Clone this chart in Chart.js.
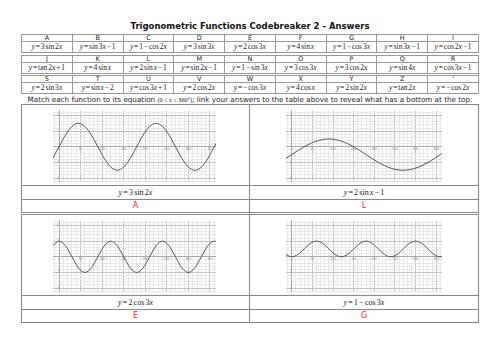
<!DOCTYPE html>
<html>
<head>
<meta charset="utf-8">
<script src="https://cdn.jsdelivr.net/npm/chart.js@4.4.1/dist/chart.umd.min.js"></script>
<style>
  body { margin: 0; width: 500px; height: 353px; background: #fff; position: relative; overflow: hidden;
         font-family: "DejaVu Sans", sans-serif; color: #222; }
  #title { position: absolute; left: 0; width: 500px; top: 20px; line-height: 12px; text-align: center;
           font-weight: bold; font-size: 8.5px; color: #111; }
  .code { position: absolute; left: 21px; width: 458px; border-collapse: collapse; table-layout: fixed; }
  .code td { border: 1px solid #999; text-align: center; padding: 0; overflow: hidden; white-space: nowrap; }
  .code tr.let td { height: 6px; line-height: 6px; font-size: 6.5px; }
  .code tr.eq td { height: 10px; line-height: 10px; font-size: 7.5px; word-spacing: -1px;
                   font-family: "Liberation Serif", serif; }
  #instr { position: absolute; left: 0; width: 500px; top: 95px; line-height: 9px; text-align: center;
           font-size: 7.2px; white-space: nowrap; }
  .ser { font-family: "Liberation Serif", serif; font-size: 6.2px; }
  .panel { position: absolute; border: 1px solid #888; background: #fff; }
  .graph { height: 80px; position: relative; }
  .graph canvas { position: absolute; }
  .cap { border-top: 1px solid #888; height: 13px; line-height: 13px; text-align: center; word-spacing: -0.8px;
         font-family: "Liberation Serif", serif; font-size: 8px; }
  .ans { border-top: 1px solid #888; height: 12px; line-height: 12px; text-align: center;
         font-size: 8px; color: #f22; }
</style>
</head>
<body>
<div id="title">Trigonometric Functions Codebreaker 2 - Answers</div>
<div id="tables"></div>
<div id="instr">Match each function to its equation <span class="ser">(0 ≤ <i>x</i> ≤ 360°)</span>; link your answers to the table above to reveal what has a bottom at the top:</div>

<div class="panel" style="left:21px; top:104px; width:227px;">
  <div class="graph"><canvas id="gA" width="163" height="76" style="left:31px; top:3px;"></canvas></div>
  <div class="cap" id="capA"></div><div class="ans" id="ansA"></div>
</div>
<div class="panel" style="left:249px; top:104px; width:228px;">
  <div class="graph"><canvas id="gL" width="156" height="76" style="left:36px; top:3px;"></canvas></div>
  <div class="cap" id="capL"></div><div class="ans" id="ansL"></div>
</div>
<div class="panel" style="left:21px; top:214px; width:227px;">
  <div class="graph"><canvas id="gE" width="163" height="76" style="left:31px; top:3px;"></canvas></div>
  <div class="cap" id="capE"></div><div class="ans" id="ansE"></div>
</div>
<div class="panel" style="left:249px; top:214px; width:228px;">
  <div class="graph"><canvas id="gG" width="156" height="76" style="left:36px; top:3px;"></canvas></div>
  <div class="cap" id="capG"></div><div class="ans" id="ansG"></div>
</div>

<script>
// code table
const letters = [
  ["A", "B", "C", "D", "E", "F", "G", "H", "I"],
  ["J", "K", "L", "M", "N", "O", "P", "Q", "R"],
  ["S", "T", "U", "V", "W", "X", "Y", "Z", "'"]
];
const equations = [
  ["y = 3 sin 2x", "y = sin 3x − 1", "y = 1 − cos 2x", "y = 3 sin 3x", "y = 2 cos 3x", "y = 4 sin x", "y = 1 − cos 3x", "y = sin 3x − 1", "y = cos 2x − 1"],
  ["y = tan 2x + 1", "y = 4 sin x", "y = 2 sin x − 1", "y = sin 2x − 1", "y = 1 − sin 3x", "y = 3 cos 3x", "y = 3 cos 2x", "y = sin 4x", "y = cos 3x − 1"],
  ["y = 2 sin 3x", "y = sin x − 2", "y = cos 3x + 1", "y = 2 cos 2x", "y = − cos 3x", "y = 4 cos x", "y = 2 sin 2x", "y = tan 2x", "y = − cos 2x"]
];

// graphs
const xs = [-15, 0, 15, 30, 45, 60, 75, 90, 105, 120, 135, 150, 165, 180, 195, 210, 225, 240, 255, 270, 285, 300, 315, 330, 345, 360, 375];
const yA = [-1.5, 0, 1.5, 2.6, 3, 2.6, 1.5, 0, -1.5, -2.6, -3, -2.6, -1.5, 0, 1.5, 2.6, 3, 2.6, 1.5, 0, -1.5, -2.6, -3, -2.6, -1.5, 0, 1.5];
const yL = [-1.52, -1, -0.48, 0, 0.41, 0.73, 0.93, 1, 0.93, 0.73, 0.41, 0, -0.48, -1, -1.52, -2, -2.41, -2.73, -2.93, -3, -2.93, -2.73, -2.41, -2, -1.52, -1, -0.48];
const yE = [1.41, 2, 1.41, 0, -1.41, -2, -1.41, 0, 1.41, 2, 1.41, 0, -1.41, -2, -1.41, 0, 1.41, 2, 1.41, 0, -1.41, -2, -1.41, 0, 1.41, 2, 1.41];
const yG = [0.29, 0, 0.29, 1, 1.71, 2, 1.71, 1, 0.29, 0, 0.29, 1, 1.71, 2, 1.71, 1, 0.29, 0, 0.29, 1, 1.71, 2, 1.71, 1, 0.29, 0, 0.29];
const captions = { A: "y = 3 sin 2x", L: "y = 2 sin x − 1", E: "y = 2 cos 3x", G: "y = 1 − cos 3x" };

const xMajor = [0, 50, 100, 150, 200, 250, 300, 350];
const yMajor = [-4, -2, 0, 2, 4];

function eqHtml(s) {
  return s.replace(/[xy]/g, m => "<i>" + m + "</i>");
}

const blockTops = [34, 54.5, 75];
let html = "";
letters.forEach((row, r) => {
  html += '<table class="code" style="top:' + blockTops[r] + 'px"><tr class="let">';
  row.forEach(l => html += "<td>" + l + "</td>");
  html += '</tr><tr class="eq">';
  equations[r].forEach(e => html += "<td>" + eqHtml(e) + "</td>");
  html += "</tr></table>";
});
document.getElementById("tables").innerHTML = html;

for (const k in captions) {
  document.getElementById("cap" + k).innerHTML = eqHtml(captions[k]);
  document.getElementById("ans" + k).textContent = k;
}

function graph(id, ys) {
  new Chart(document.getElementById(id), {
    type: "line",
    data: {
      datasets: [{
        data: xs.map((x, i) => ({ x: x, y: ys[i] })),
        borderColor: "#555",
        borderWidth: 1,
        pointRadius: 0,
        cubicInterpolationMode: "monotone",
        fill: false
      }]
    },
    options: {
      responsive: false,
      animation: false,
      devicePixelRatio: 1,
      layout: { padding: 0 },
      plugins: { legend: { display: false }, tooltip: { enabled: false } },
      scales: {
        x: {
          type: "linear", min: -14, max: 364, position: { y: 0 },
          afterBuildTicks: s => {
            s.ticks = [];
            for (let v = -10; v <= 360; v += 10) s.ticks.push({ value: v });
          },
          grid: {
            drawTicks: false,
            color: c => xMajor.includes(c.tick.value) ? "#c2c2c2" : "#e8e8e8"
          },
          border: { color: "#aaa" },
          ticks: {
            autoSkip: false, maxRotation: 0, padding: 1, color: "#888", font: { size: 3 },
            callback: v => xMajor.includes(v) ? String(v) : ""
          }
        },
        y: {
          type: "linear", min: -4.4, max: 4.6, position: { x: 0 },
          afterBuildTicks: s => {
            s.ticks = [];
            for (let k = -11; k <= 11; k++) s.ticks.push({ value: +(k * 0.4).toFixed(1) });
          },
          grid: {
            drawTicks: false,
            color: c => yMajor.includes(c.tick.value) ? "#c2c2c2" : "#e8e8e8"
          },
          border: { color: "#aaa" },
          ticks: {
            autoSkip: false, padding: 1, color: "#888", font: { size: 3 },
            callback: v => (yMajor.includes(v) && v !== 0) ? String(v) : ""
          }
        }
      }
    }
  });
}

graph("gA", yA);
graph("gL", yL);
graph("gE", yE);
graph("gG", yG);
</script>
</body>
</html>
